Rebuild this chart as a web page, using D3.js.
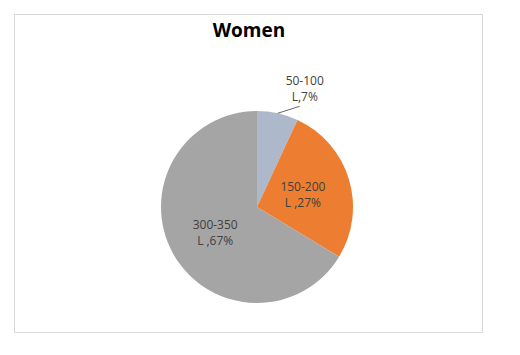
<!DOCTYPE html>
<html>
<head>
<meta charset="utf-8">
<script src="https://cdn.jsdelivr.net/npm/d3@7"></script>
<style>
  body { margin: 0; background: #fff; }
  svg { display: block; }
</style>
</head>
<body>
<div id="vis1"></div>
<script>
const FRAME_WIDTH = 520;
const FRAME_HEIGHT = 355;

// chart data (percent shares)
const CATEGORIES = ["50-100", "150-200", "300-350"];
const UNITS = ["L,", "L ,", "L ,"];
const VALUES = [7, 27, 67];
const COLORS = ["#adb9ca", "#ed7d31", "#a5a5a5"];
const TITLE = "Women";

const CX = 257;
const CY = 207;
const RADIUS = 96;

const FRAME1 = d3.select("#vis1")
    .append("svg")
        .attr("width", FRAME_WIDTH)
        .attr("height", FRAME_HEIGHT);

// chart area border
FRAME1.append("rect")
    .attr("x", 14.5)
    .attr("y", 14.5)
    .attr("width", 468)
    .attr("height", 318)
    .attr("fill", "#fff")
    .attr("stroke", "#d9d9d9")
    .attr("stroke-width", 1);

FRAME1.append("text")
    .attr("x", 249)
    .attr("y", 37)
    .attr("text-anchor", "middle")
    .attr("font-family", "'Open Sans', sans-serif")
    .attr("font-weight", "bold")
    .attr("font-size", 19)
    .attr("fill", "#000")
    .text(TITLE);

const data = CATEGORIES.map((c, i) => {
    return {cat: c, unit: UNITS[i], value: VALUES[i], color: COLORS[i]};
});

const pie = d3.pie()
    .value((d) => d.value)
    .sort(null);

const arc = d3.arc()
    .innerRadius(0)
    .outerRadius(RADIUS);

const g = FRAME1.append("g")
    .attr("transform", `translate(${CX}, ${CY})`);

const arcs = pie(data);

g.selectAll("path")
    .data(arcs)
    .enter()
    .append("path")
    .attr("d", arc)
    .attr("fill", (d) => d.data.color);

// small slices get an outside label with a leader line
arcs.forEach((d) => {
    const mid = (d.startAngle + d.endAngle) / 2;
    let lx, ly;
    if (d.value < 10) {
        const sx = RADIUS * Math.sin(mid);
        const sy = -RADIUS * Math.cos(mid);
        const ex = sx + 22;
        const ey = sy - 7;
        g.append("line")
            .attr("x1", sx).attr("y1", sy)
            .attr("x2", ex).attr("y2", ey)
            .attr("stroke", "#404040")
            .attr("stroke-width", 0.8);
        lx = ex + 5;
        ly = ey - 21;
    } else {
        const c = arc.centroid(d);
        lx = c[0];
        ly = c[1] - 2;
    }
    const t = g.append("text")
        .attr("text-anchor", "middle")
        .attr("font-family", "'Open Sans', sans-serif")
        .attr("font-size", 12)
        .attr("fill", "#404040");
    t.append("tspan")
        .attr("x", lx)
        .attr("y", ly)
        .text(d.data.cat);
    t.append("tspan")
        .attr("x", lx)
        .attr("y", ly + 16)
        .text(d.data.unit + d.value + "%");
});
</script>
</body>
</html>
